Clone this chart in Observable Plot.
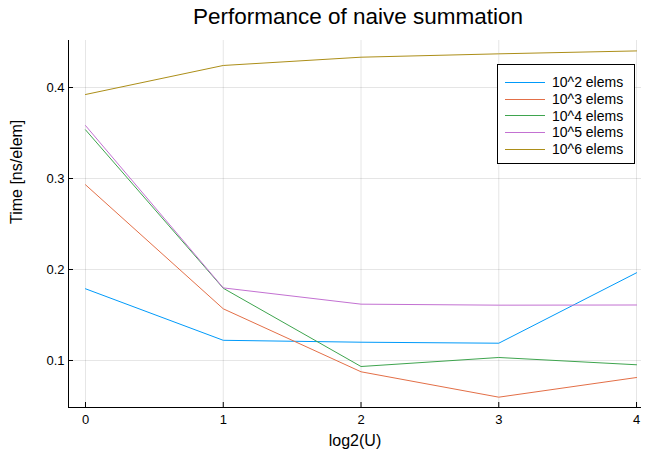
<!DOCTYPE html>
<html>
<head>
<meta charset="utf-8">
<script src="https://cdn.jsdelivr.net/npm/d3@7"></script>
<script src="https://cdn.jsdelivr.net/npm/@observablehq/plot@0.6"></script>
<style>
  body { margin: 0; background: #fff; }
  #wrap { position: relative; width: 648px; height: 455px; font-family: "Liberation Sans", Arial, Helvetica, sans-serif; }
  #title { position: absolute; left: 68px; width: 580px; top: 3px; text-align: center; font-size: 22.5px; line-height: 28px; color: #000; }
  #legend { position: absolute; left: 497px; top: 64px; width: 138px; height: 100px; border: 1px solid #000; background: #fff; font-size: 14px; box-sizing: border-box; padding-top: 9px; }
  .item { display: flex; align-items: center; height: 16.7px; }
  .sw { width: 40px; height: 0; border-top: 1px solid; margin-left: 7px; margin-right: 7px; }
</style>
</head>
<body>
<div id="wrap">
  <div id="chart"></div>
  <div id="title">Performance of naive summation</div>
  <div id="legend"></div>
</div>
<script>
const xValues = [0, 1, 2, 3, 4];
const seriesNames = ["10^2 elems", "10^3 elems", "10^4 elems", "10^5 elems", "10^6 elems"];
const s1e2 = [0.1788, 0.1222, 0.1201, 0.1190, 0.1964];
const s1e3 = [0.2931, 0.1568, 0.0876, 0.0597, 0.0813];
const s1e4 = [0.3535, 0.1794, 0.0934, 0.1033, 0.0953];
const s1e5 = [0.3582, 0.1798, 0.1619, 0.1608, 0.1610];
const s1e6 = [0.3923, 0.4242, 0.4333, 0.4370, 0.4402];
const seriesColors = ["#009AFA", "#E36F47", "#3EA44E", "#C371D2", "#AC8E18"];
const xTicks = [0, 1, 2, 3, 4];
const yTicks = [0.1, 0.2, 0.3, 0.4];
const xLabel = "log2(U)";
const yLabel = "Time [ns/elem]";

const allSeries = [s1e2, s1e3, s1e4, s1e5, s1e6];
const rows = [];
allSeries.forEach((vals, i) => vals.forEach((v, j) => rows.push({x: xValues[j], y: v, s: seriesNames[i]})));

const W = 648, H = 455, mL = 68, mR = 7, mT = 40, mB = 48;
const plotW = W - mL - mR, plotH = H - mT - mB;
const xDom = [-0.1234, 4.036];
const yDom = [0.04835, 0.45165];

const chart = Plot.plot({
  width: W, height: H,
  marginLeft: mL, marginRight: mR, marginTop: mT, marginBottom: mB,
  style: {fontFamily: '"Liberation Sans", Arial, Helvetica, sans-serif', fontSize: "13px", color: "#000", background: "#fff"},
  x: {domain: xDom},
  y: {domain: yDom},
  color: {domain: seriesNames, range: seriesColors},
  marks: [
    Plot.gridX(xTicks, {stroke: "#000", strokeOpacity: 0.1, strokeWidth: 1}),
    Plot.gridY(yTicks, {stroke: "#000", strokeOpacity: 0.1, strokeWidth: 1}),
    Plot.axisX(xTicks, {tickSize: 0, tickPadding: 7, tickFormat: d3.format("d"), label: null, fontSize: 13}),
    Plot.axisY(yTicks, {tickSize: 0, tickPadding: 4, tickFormat: d3.format(".1f"), label: null, fontSize: 13}),
    Plot.text([xLabel], {frameAnchor: "bottom", dy: 38, fontSize: 16}),
    Plot.text([yLabel], {frameAnchor: "left", dx: -52, rotate: -90, fontSize: 16}),
    Plot.ruleX(xTicks, {x: d => d, insetTop: plotH - 5, stroke: "#000", strokeWidth: 1}),
    Plot.ruleY(yTicks, {y: d => d, insetRight: plotW - 5, stroke: "#000", strokeWidth: 1}),
    Plot.line(rows, {x: "x", y: "y", z: "s", stroke: "s", strokeWidth: 1}),
    Plot.ruleX([xDom[0]], {stroke: "#000", strokeWidth: 1}),
    Plot.ruleY([yDom[0]], {stroke: "#000", strokeWidth: 1})
  ]
});
document.getElementById("chart").appendChild(chart);

const leg = document.getElementById("legend");
seriesNames.forEach((n, i) => {
  const it = document.createElement("div"); it.className = "item";
  const sw = document.createElement("span"); sw.className = "sw"; sw.style.borderTopColor = seriesColors[i];
  const tx = document.createElement("span"); tx.textContent = n;
  it.appendChild(sw); it.appendChild(tx); leg.appendChild(it);
});
</script>
</body>
</html>
